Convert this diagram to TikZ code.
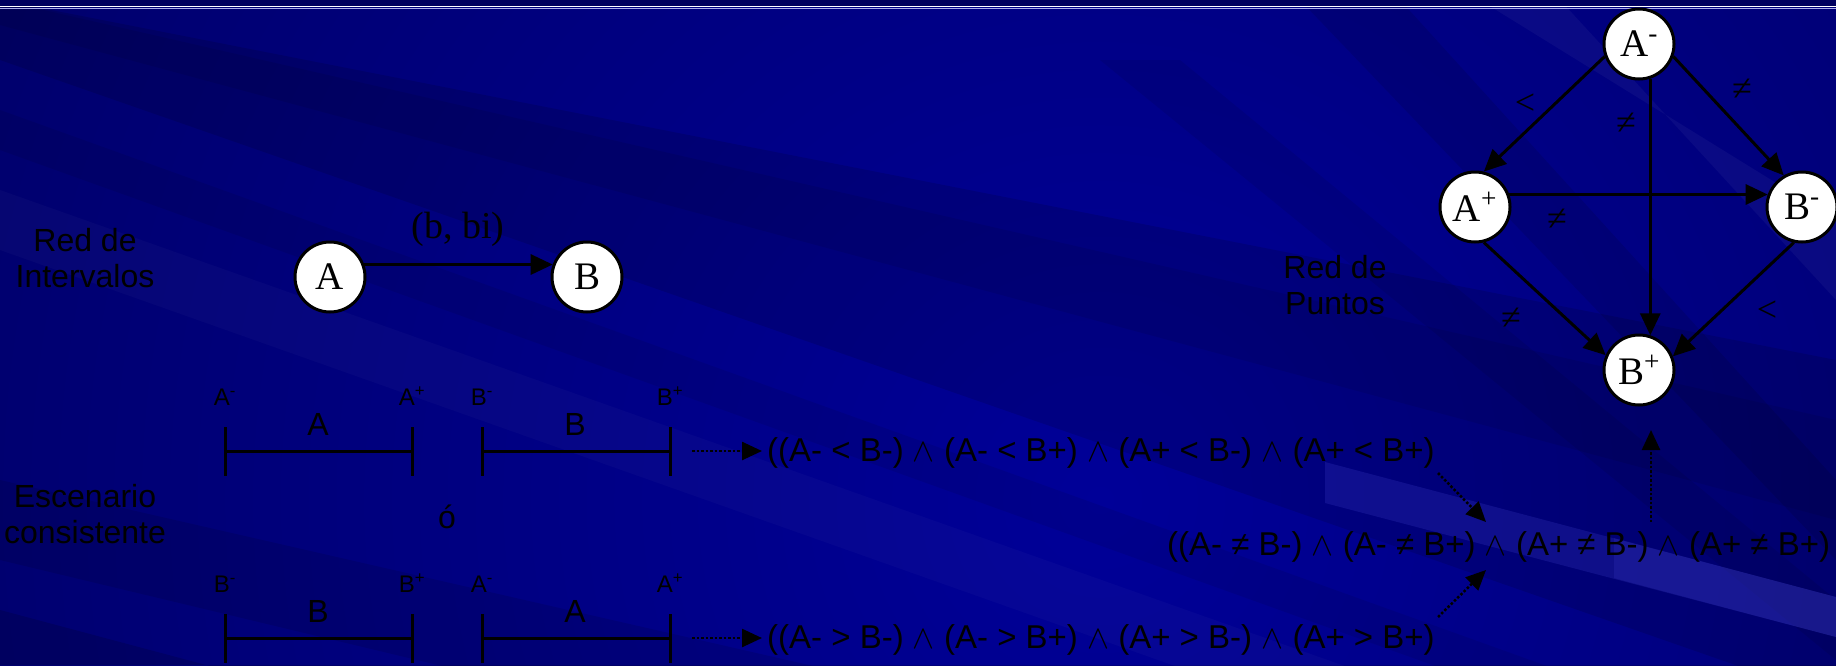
\RequirePackage{fix-cm}
\documentclass[tikz,border=0pt]{standalone}
\usepackage{fontspec}
\setmainfont{Liberation Sans}
\newfontfamily\serifA{Liberation Serif}
\usetikzlibrary{arrows.meta,calc}
\definecolor{bgdark}{RGB}{0,0,80}
\definecolor{bgmid}{RGB}{0,0,152}
\definecolor{bgtop}{RGB}{0,0,95}
\definecolor{topline}{RGB}{170,170,235}
\definecolor{stripe}{RGB}{70,70,210}
\tikzset{
 pnode/.style={circle,draw=black,line width=3pt,fill=white,minimum size=70pt,inner sep=0pt,font=\serifA\fontsize{39}{39}\selectfont},
 edge/.style={line width=3pt,-{Triangle[length=22pt,width=20pt]}},
 elbl/.style={font=\serifA\fontsize{36}{36}\selectfont,inner sep=0pt},
 side/.style={font=\fontsize{32}{36}\selectfont,align=center,inner sep=0pt},
 tinylbl/.style={font=\fontsize{24}{24}\selectfont,anchor=base,inner sep=0pt},
 ilabel/.style={font=\fontsize{32}{32}\selectfont,anchor=base,inner sep=0pt},
 formula/.style={font=\fontsize{33}{33}\selectfont,anchor=base west,inner sep=0pt},
 dotarr/.style={line width=2.5pt,dash pattern=on 2.5pt off 2pt,-{Triangle[length=20pt,width=18pt]}},
 ibar/.style={line width=3pt},
}
\begin{document}
\begin{tikzpicture}[x=1pt,y=-1pt]
\useasboundingbox (0,0) rectangle (1836,665);
% ---------- background ----------
\begin{scope}
\clip (0,0) rectangle (1836,665);
\fill[bgdark] (0,0) rectangle (1836,665);
\shade[inner color=bgmid, outer color=bgdark] (-900,-1500) rectangle (3100,2500);
% dark streaks
\fill[black,opacity=.12] (0,0) -- (0,60) -- (1836,700) -- (1836,360) -- cycle;
\fill[black,opacity=.08] (0,0) -- (0,25) -- (1836,520) -- (1836,420) -- cycle;
\fill[black,opacity=.08] (0,110) -- (0,150) -- (1836,810) -- (1836,770) -- cycle;
\fill[black,opacity=.10] (0,480) -- (0,560) -- (1836,1000) -- (1836,900) -- cycle;
\fill[black,opacity=.14] (0,610) -- (0,665) -- (1836,665) -- (1836,1100) -- cycle;
% light streak
\fill[white,opacity=.025] (0,190) -- (0,250) -- (1836,900) -- (1836,840) -- cycle;
% streaks on the right
\fill[white,opacity=.04] (1480,0) -- (1560,0) -- (1836,300) -- (1836,220) -- cycle;
\fill[black,opacity=.10] (1300,0) -- (1400,0) -- (1836,480) -- (1836,560) -- cycle;
\fill[black,opacity=.08] (1100,60) -- (1180,60) -- (1836,600) -- (1836,660) -- cycle;
% bright stripe
\fill[stripe,opacity=.22] (1325,462) -- (1836,597) -- (1836,637) -- (1325,503) -- cycle;
\fill[stripe,opacity=.18] (1614,538) -- (1836,597) -- (1836,637) -- (1614,578) -- cycle;
% top band
\fill[bgtop] (0,0) rectangle (1836,6);
\draw[white,line width=1.5pt] (0,6.5) -- (1836,6.5);
\draw[topline,line width=1pt] (0,8.2) -- (1836,8.2);
\end{scope}
% ---------- side labels ----------
\node[side] (tri) at (85,258) {Red de\\Intervalos};
\node[side] (tec) at (85,514) {Escenario\\consistente};
\node[side] (trp) at (1335,285) {Red de\\Puntos};
% ---------- interval network ----------
\node[pnode] (A) at (330,277) {A};
\node[pnode] (B) at (587,277) {B};
\draw[edge] (A.20) -- (B.160);
\node[font=\serifA\fontsize{38}{38}\selectfont,anchor=base,inner sep=0pt] (bbi) at (458,238) {(b, bi)};
% ---------- intervals row 1 ----------
\draw[ibar] (225,427) -- (225,476) (225,451) -- (412,451) (412,427) -- (412,476);
\draw[ibar] (482,427) -- (482,476) (482,451) -- (670,451) (670,427) -- (670,476);
\node[tinylbl] (r1a) at (225,405) {A\textsuperscript{-}};
\node[tinylbl] (r1b) at (412,405) {A\textsuperscript{+}};
\node[tinylbl] (r1c) at (482,405) {B\textsuperscript{-}};
\node[tinylbl] (r1d) at (670,405) {B\textsuperscript{+}};
\node[ilabel] (r1A) at (318,435) {A};
\node[ilabel] (r1B) at (575,435) {B};
% ---------- intervals row 2 ----------
\draw[ibar] (225,614) -- (225,663) (225,638) -- (412,638) (412,614) -- (412,663);
\draw[ibar] (482,614) -- (482,663) (482,638) -- (670,638) (670,614) -- (670,663);
\node[tinylbl] (r2a) at (225,592) {B\textsuperscript{-}};
\node[tinylbl] (r2b) at (412,592) {B\textsuperscript{+}};
\node[tinylbl] (r2c) at (482,592) {A\textsuperscript{-}};
\node[tinylbl] (r2d) at (670,592) {A\textsuperscript{+}};
\node[ilabel] (r2B) at (318,622) {B};
\node[ilabel] (r2A) at (575,622) {A};
\node[ilabel] (oo) at (447,528) {ó};
% ---------- formulas ----------
\node[formula] (f1) at (767,461) {((A- < B-) $\wedge$ (A- < B+) $\wedge$ (A+ < B-) $\wedge$ (A+ < B+)};
\node[formula] (f2) at (767,648) {((A- > B-) $\wedge$ (A- > B+) $\wedge$ (A+ > B-) $\wedge$ (A+ > B+)};
\node[formula] (fm) at (1167,555) {((A- ≠ B-) $\wedge$ (A- ≠ B+) $\wedge$ (A+ ≠ B-) $\wedge$ (A+ ≠ B+)};
\coordinate (d1) at (692,451);
\coordinate (d2) at (692,638);
\draw[dotarr,shorten >=5pt] (d1) -- (d1 -| f1.west);
\draw[dotarr,shorten >=5pt] (d2) -- (d2 -| f2.west);
\coordinate (s1) at (1438,473);
\coordinate (e1) at (1486,522);
\coordinate (s2) at (1438,617);
\coordinate (e2) at (1486,570);
\coordinate (s3) at (1651,522);
\coordinate (e3) at (1651,430);
\draw[dotarr] (s1) -- (e1);
\draw[dotarr] (s2) -- (e2);
\draw[dotarr] (s3) -- (e3);
% ---------- point network ----------
\node[pnode] (Am) at (1639,44) {A\textsuperscript{-}};
\node[pnode] (Ap) at (1475,207) {A\textsuperscript{+}};
\node[pnode] (Bm) at (1802,207) {B\textsuperscript{-}};
\node[pnode] (Bp) at (1639,370) {B\textsuperscript{+}};
\draw[edge] (Am.200) -- (Ap.76);
\draw[edge] (Am.340) -- (Bm.120);
\draw[edge] (Am.288) -- (Bp.72);
\draw[edge] (Ap.20) -- (Bm.160);
\draw[edge] (Ap.284) -- (Bp.156);
\draw[edge] (Bm.257) -- (Bp.22);
\node[elbl] (l1) at (1525,104) {<};
\node[elbl] (l2) at (1742,90) {≠};
\node[elbl] (l3) at (1626,124) {≠};
\node[elbl] (l4) at (1557,220) {≠};
\node[elbl] (l5) at (1511,319) {≠};
\node[elbl] (l6) at (1767,311) {<};
\end{tikzpicture}
\end{document}
